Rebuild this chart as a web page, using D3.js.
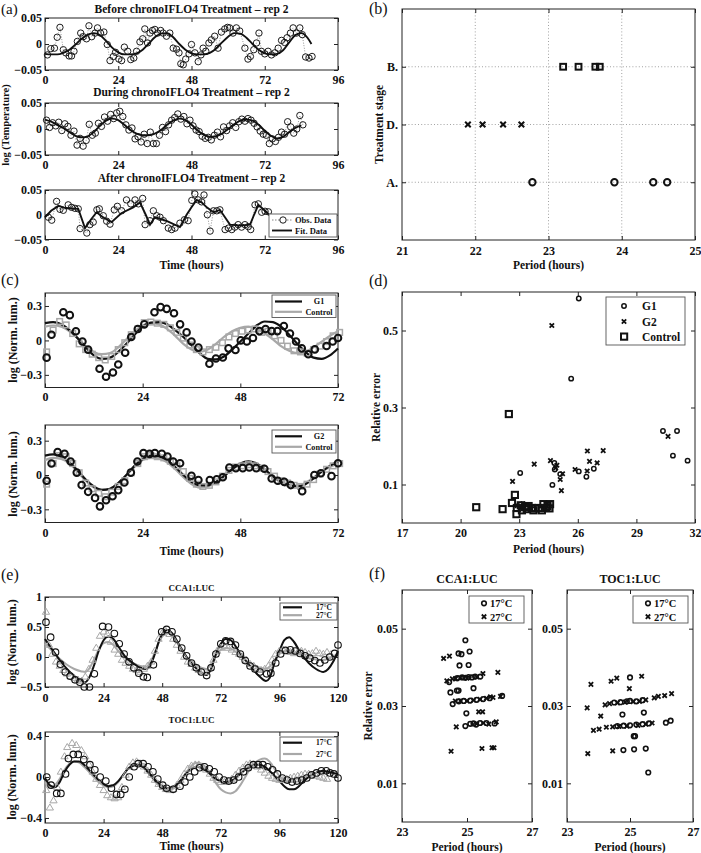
<!DOCTYPE html>
<html><head><meta charset="utf-8">
<script src="https://cdn.jsdelivr.net/npm/d3@7"></script>
<style>body{margin:0;background:#fff}</style>
</head><body>
<svg id="fig" width="701" height="853"></svg>
<script>
// ================= DATA =================
// (a) temperature rhythms
const aBeforeT = [0.8,1.9,3.1,4.0,4.9,6.0,6.8,7.9,8.7,9.5,10.6,11.7,12.5,13.6,14.4,15.3,16.4,17.2,18.2,19.3,20.4,21.3,22.4,23.1,24.2,25.1,26.0,27.1,28.1,29.1,30.0,31.1,32.0,32.7,33.6,34.4,35.2,36.0,36.9,37.9,38.7,39.8,40.9,42.0,43.1,43.9,44.5,45.3,46.1,47.2,48.0,49.1,50.2,51.1,51.8,52.7,53.7,54.5,55.6,56.7,57.8,58.9,59.8,60.5,61.6,62.7,63.8,65.5,66.5,67.3,68.4,69.3,70.1,70.9,72.0,73.1,74.2,75.3,76.4,77.5,78.5,79.3,80.4,81.3,82.4,83.5,84.3,85.4,86.5,87.5];
const aBeforeV = [-0.021,-0.009,-0.008,0.013,0.032,-0.011,-0.017,-0.023,-0.023,-0.014,0.005,0.021,0.014,0.010,0.035,0.014,0.021,0.031,0.021,0.023,-0.001,-0.032,-0.024,-0.016,-0.029,-0.032,-0.006,-0.014,-0.030,-0.027,-0.014,0.004,0.010,0.029,0.002,0.021,0.026,0.028,0.021,0.026,0.021,0.015,0.021,-0.008,-0.010,-0.017,-0.038,-0.040,-0.029,-0.019,-0.001,-0.017,-0.034,-0.021,-0.008,-0.014,0.002,0.008,0.015,-0.008,0.023,0.029,0.032,0.031,0.021,0.031,0.025,-0.008,-0.029,-0.024,-0.011,0.002,0.021,-0.014,-0.019,-0.014,-0.021,-0.017,-0.008,0.007,0.003,0.012,0.021,0.031,0.021,0.031,0.018,-0.025,-0.027,-0.024];
const aBeforeFitT = d3.range(0, 87, 2).concat([87.3]);
const aBeforeFitV = [-0.019,-0.02,-0.02,-0.017,-0.011,-0.001,0.01,0.018,0.021,0.017,0.006,-0.007,-0.016,-0.02,-0.02,-0.018,-0.011,0.001,0.013,0.02,0.021,0.013,0.0,-0.011,-0.018,-0.02,-0.02,-0.017,-0.009,0.003,0.014,0.021,0.02,0.012,0.0,-0.011,-0.018,-0.02,-0.019,-0.012,0.003,0.017,0.021,0.012,0.0];

const aDuringT = d3.range(0.5, 85, 1);
const aDuringV = [0.017,0.003,0.012,0.006,0.013,-0.003,0.010,0.005,-0.012,-0.004,-0.031,-0.018,-0.033,-0.022,0.009,-0.012,-0.008,0.011,0.005,0.023,0.015,0.028,0.020,0.031,0.034,0.024,0.008,-0.002,0.002,-0.019,-0.015,-0.025,-0.010,-0.028,-0.006,-0.028,-0.028,-0.012,0.003,-0.005,0.008,0.017,0.022,0.029,0.019,0.024,0.010,0.017,0.006,-0.002,-0.005,-0.014,-0.018,-0.016,-0.021,-0.012,-0.006,-0.015,0.004,-0.003,0.006,0.012,0.003,0.014,0.019,0.015,0.020,0.017,0.011,0.004,-0.004,-0.010,-0.012,-0.028,-0.019,-0.024,-0.016,-0.006,-0.010,0.014,0.004,-0.008,0.000,0.026,0.008];
const aDuringFitT = d3.range(0, 85, 2);
const aDuringFitV = [0.018,0.014,0.008,0.002,-0.006,-0.013,-0.016,-0.014,-0.006,0.006,0.016,0.02,0.017,0.008,-0.002,-0.009,-0.012,-0.012,-0.009,-0.002,0.008,0.016,0.02,0.017,0.008,-0.003,-0.011,-0.015,-0.014,-0.009,0.0,0.009,0.016,0.018,0.016,0.008,-0.003,-0.013,-0.018,-0.015,-0.006,0.002,0.007];

const aAfterT = [1.1,2.2,3.8,4.9,6.0,7.6,8.7,9.8,10.9,11.5,13.7,14.7,15.8,17.0,17.8,19.1,20.2,21.3,22.7,23.7,25.1,26.7,28.1,29.5,30.6,32.0,32.8,34.4,35.5,36.6,37.7,38.8,40.4,41.5,42.6,44.2,45.7,46.9,48.1,49.1,50.2,51.3,52.1,53.2,54.1,55.2,56.3,57.3,59.0,60.1,61.2,62.2,63.3,64.4,65.5,66.6,67.4,68.8,69.9,71.0,72.1,73.2];
const aAfterV = [-0.005,-0.011,0.027,0.011,0.009,0.02,0.015,0.013,0.012,-0.028,-0.037,-0.02,-0.015,0.01,0.012,-0.002,-0.013,-0.019,0.01,0.017,0.008,0.03,0.022,0.03,0.022,0.033,-0.02,-0.012,0.008,-0.002,-0.005,-0.012,-0.027,-0.03,-0.027,-0.017,-0.01,-0.012,0.029,0.042,0.03,0.026,0.04,0.0,-0.033,0.008,0.008,0.01,-0.03,-0.027,-0.03,-0.025,-0.02,-0.025,-0.02,-0.024,-0.03,0.02,0.022,0.005,0.007,0.006];
const aAfterFitT = [0,2,4.4,7,10.9,13.1,15,16.9,19,21.8,25,28.9,31.1,33,34.4,36,40,44.2,46.4,48,49.7,51.3,53,55.2,57.3,60.6,64,67.2,68.5,69.9,72.1,74.3];
const aAfterFitV = [-0.005,0.008,0.018,0.013,0.012,-0.027,-0.01,0.005,-0.005,-0.015,0.003,0.015,0.025,0.0,-0.02,-0.005,-0.013,-0.025,0.0,0.015,0.03,0.025,0.015,0.005,0.01,-0.02,-0.022,-0.02,0.0,0.02,0.008,-0.005];
const aTitles = ["Before chronoIFLO4 Treatment \u2013 rep 2","During chronoIFLO4 Treatment \u2013 rep 2","After chronoIFLO4 Treatment \u2013 rep 2"];
const aTimeTicks = [0,24,48,72,96];
const aYTicks = [-0.05,0,0.05];

// (b) periods per treatment stage
const bStages = ["A.","D.","B."];
const bPeriodA = [22.78,23.9,24.43,24.62];
const bPeriodD = [21.9,22.1,22.38,22.63];
const bPeriodB = [23.2,23.41,23.64,23.7];
const bXTicks = [21,22,23,24,25];

// (c) luminescence G1 / G2 vs control
const cG1T = [0.4,1.6,4.5,6.1,7.6,9.2,10.6,13.4,15.0,16.7,18.0,19.7,21.2,22.8,24.4,26.9,28.4,29.9,31.7,33.2,34.8,36.0,37.7,40.4,42.0,43.7,45.1,46.8,48.1,49.6,51.1,52.7,54.2,55.7,57.1,58.7,60.2,61.7,63.1,64.7,66.3,69.2,70.7,72.0];
const cG1V = [-0.15,0.05,0.245,0.22,0.08,-0.01,-0.08,-0.247,-0.316,-0.28,-0.21,-0.107,0.03,0.1,0.14,0.245,0.29,0.275,0.236,0.14,0.07,-0.01,-0.063,-0.203,-0.158,-0.149,-0.069,-0.084,0.0,-0.009,0.021,0.081,0.1,0.081,0.081,0.125,0.06,-0.009,-0.069,-0.12,-0.078,-0.048,-0.009,0.021];
const cCtlT = d3.range(0.4, 72.5, 1.6);
const cCtl1V = [-0.1,0.09,0.165,0.135,0.06,-0.03,-0.08,-0.12,-0.15,-0.17,-0.14,-0.08,-0.02,0.05,0.1,0.155,0.16,0.15,0.14,0.11,0.07,0.02,-0.04,-0.08,-0.1,-0.08,-0.06,-0.02,0.03,0.06,0.08,0.09,0.1,0.07,0.08,0.04,0.0,-0.05,-0.09,-0.1,-0.11,-0.08,-0.05,-0.01,0.04,0.07];
const cFitT = d3.range(0, 73, 2);
const cG1FitV = [0.15,0.16,0.14,0.09,0.02,-0.06,-0.13,-0.16,-0.15,-0.1,-0.03,0.05,0.12,0.155,0.16,0.14,0.09,0.03,-0.04,-0.11,-0.16,-0.165,-0.14,-0.08,-0.01,0.06,0.13,0.165,0.16,0.12,0.05,-0.03,-0.1,-0.15,-0.16,-0.13,-0.07];
const cCtl1FitV = [0.12,0.13,0.12,0.08,0.02,-0.05,-0.1,-0.12,-0.11,-0.06,0.01,0.08,0.13,0.15,0.14,0.1,0.04,-0.03,-0.08,-0.1,-0.08,-0.03,0.03,0.08,0.11,0.12,0.1,0.06,0.01,-0.05,-0.09,-0.11,-0.1,-0.06,-0.01,0.04,0.08];
const cG2T = [0.4,1.6,3.1,4.8,6.3,7.8,9.0,10.6,12.3,13.5,15.0,16.6,18.0,19.5,21.1,22.7,24.2,25.7,27.0,28.7,30.1,31.5,33.2,36.0,37.7,40.5,42.2,43.7,45.3,46.9,48.6,50.2,51.9,53.9,55.7,57.2,58.8,60.4,63.2,66.2,67.8,70.4,72.0];
const cG2V = [-0.05,0.1,0.2,0.185,0.118,0.021,-0.088,-0.147,-0.2,-0.274,-0.221,-0.185,-0.132,-0.065,0.021,0.118,0.191,0.185,0.191,0.185,0.162,0.118,0.103,-0.006,-0.044,-0.044,-0.038,-0.02,0.065,0.059,0.06,0.065,0.06,0.055,-0.03,-0.05,-0.06,-0.088,-0.141,0.0,0.015,-0.01,0.103];
const cCtl2V = [-0.08,0.1,0.17,0.16,0.1,0.02,-0.07,-0.12,-0.16,-0.19,-0.15,-0.1,-0.05,0.02,0.1,0.16,0.17,0.16,0.15,0.12,0.08,0.03,-0.03,-0.08,-0.1,-0.09,-0.06,-0.01,0.04,0.07,0.08,0.09,0.08,0.06,0.03,-0.01,-0.05,-0.07,-0.09,-0.1,-0.08,-0.04,0.01,0.05,0.08,0.1];
const cG2FitV = [0.17,0.18,0.16,0.11,0.04,-0.04,-0.1,-0.13,-0.12,-0.07,0.0,0.08,0.14,0.17,0.165,0.13,0.07,0.0,-0.06,-0.09,-0.09,-0.06,-0.01,0.05,0.1,0.12,0.1,0.05,-0.01,-0.06,-0.09,-0.1,-0.08,-0.03,0.03,0.08,0.12];
const cCtl2FitV = [0.13,0.15,0.14,0.1,0.03,-0.05,-0.11,-0.13,-0.12,-0.07,0.0,0.07,0.13,0.15,0.145,0.11,0.05,-0.02,-0.08,-0.11,-0.1,-0.06,0.0,0.05,0.09,0.1,0.08,0.04,-0.02,-0.06,-0.09,-0.09,-0.07,-0.02,0.03,0.07,0.1];
const cTimeTicks = [0,24,48,72];
const cYTicks = [-0.3,0,0.3];

// (d) relative error vs period
const dG1P = [26.05,25.66,23.05,24.8,24.82,24.7,25.1,26.05,26.44,26.82,30.36,31.08,30.87,31.62];
const dG1E = [0.583,0.375,0.130,0.156,0.139,0.099,0.127,0.134,0.120,0.141,0.239,0.239,0.175,0.162];
const dG2P = [24.67,23.77,22.66,24.6,24.93,24.87,25.22,25.1,25.16,25.86,26.49,26.6,26.48,26.99,27.3,30.62,22.9,23.2];
const dG2E = [0.513,0.153,0.108,0.162,0.150,0.143,0.128,0.113,0.084,0.139,0.187,0.160,0.135,0.156,0.188,0.225,0.045,0.05];
const dCtlP = [20.8,22.15,22.47,22.78,22.63,22.86,22.88,23.08,23.14,23.48,23.39,23.73,23.83,24.16,24.24,24.38,24.58,24.55,23.65,23.99,23.3,24.45];
const dCtlE = [0.041,0.036,0.283,0.073,0.052,0.023,0.039,0.046,0.033,0.044,0.036,0.033,0.038,0.033,0.049,0.039,0.049,0.038,0.039,0.039,0.041,0.044];
const dXTicks = [17,20,23,26,29,32];
const dYTicks = [0.1,0.3,0.5];

// (e) CCA1:LUC and TOC1:LUC at 17 / 27 C
const eC17T = [0.4,2.3,4.3,6.3,8.3,10.3,12.3,14.3,16.1,18.2,20.2,23.6,26.0,28.4,30.4,32.4,34.4,36.4,38.4,40.3,41.9,44.4,47.8,49.8,52.0,54.0,56.0,58.0,60.0,62.0,64.0,66.2,68.0,70.0,72.0,74.0,76.0,78.0,80.0,82.0,84.0,86.0,88.0,90.8,92.5,94.5,96.5,98.5,100.5,102.5,104.5,106.5,108.5,110.5,112.6,114.6,116.6,118.6,120];
const eC17V = [0.58,0.33,0.08,-0.12,-0.25,-0.32,-0.38,-0.42,-0.5,-0.5,-0.28,0.51,0.5,0.39,0.22,0.05,-0.08,-0.18,-0.27,-0.33,-0.34,-0.13,0.42,0.46,0.42,0.3,0.15,0.02,-0.1,-0.18,-0.25,-0.31,-0.18,0.05,0.22,0.27,0.26,0.2,0.05,-0.06,-0.15,-0.2,-0.25,-0.28,-0.27,-0.1,0.05,0.11,0.12,0.1,0.06,0.02,-0.02,-0.06,-0.1,-0.05,0.0,0.06,0.2];
const eC27T = [0.4,1.6].concat(d3.range(3, 118, 1.5));
const eC27V = [0.75,0.2,0.05,-0.08,-0.15,-0.22,-0.28,-0.32,-0.35,-0.38,-0.4,-0.33,-0.2,-0.05,0.15,0.35,0.42,0.38,0.25,0.12,0.05,-0.05,-0.1,-0.15,-0.2,-0.22,-0.25,-0.2,-0.15,-0.08,0.1,0.3,0.4,0.43,0.38,0.3,0.2,0.1,0.0,-0.08,-0.12,-0.18,-0.22,-0.24,-0.25,-0.18,-0.05,0.1,0.15,0.18,0.15,0.12,0.08,0.05,0.0,-0.05,-0.12,-0.15,-0.2,-0.22,-0.2,-0.15,-0.05,0.05,0.1,0.12,0.1,0.08,0.06,0.08,0.1,0.08,0.05,0.06,0.1,0.06,0.05,0.08,0.04];
const eCFitT = [0,3,6,9,12,15,16.5,18,20,22,24,26,28,30,33,36,39,41.5,43,45,47,49,50.5,52,55,58,61,64,66,68,70,72,74,76,79,82,85,88,90.5,92,94,96,98,100,102,105,108,111,114,116,118,120];
const eC17FitV = [0.3,0.12,-0.05,-0.2,-0.32,-0.4,-0.42,-0.35,-0.15,0.1,0.28,0.34,0.3,0.18,0.0,-0.1,-0.18,-0.2,-0.15,0.05,0.3,0.43,0.45,0.4,0.2,0.0,-0.15,-0.26,-0.3,-0.2,0.05,0.22,0.3,0.28,0.12,-0.05,-0.2,-0.33,-0.4,-0.35,-0.1,0.1,0.28,0.33,0.25,0.05,-0.1,-0.2,-0.25,-0.2,-0.08,0.1];
const eC27FitV = [0.22,0.1,-0.03,-0.13,-0.2,-0.24,-0.25,-0.2,-0.05,0.12,0.23,0.25,0.2,0.1,-0.02,-0.1,-0.15,-0.16,-0.1,0.08,0.28,0.38,0.4,0.35,0.18,0.0,-0.1,-0.18,-0.2,-0.12,0.03,0.12,0.15,0.14,0.06,-0.05,-0.12,-0.18,-0.2,-0.16,-0.05,0.05,0.1,0.1,0.08,0.03,-0.02,-0.04,-0.05,-0.03,0.01,0.05];
const eT17T = [0.7,2.5,4.8,6.5,8.4,9.6,11.6,13.6,15.9,18.4,20.4,22.6,24.9,27.2,29.3,31,32.7,34.5,36.5,38.2,40.2,42.2,44.2,46.2,48.2,49.8,52.5,55.3,57.3,59.3,61.3,63.3,65.3,67.3,69.3,71.3,73.3,75.3,77.3,79.3,81.3,83.3,85.3,87.3,89.2,91.2,93.2,95.2,97.2,99.2,101.2,103.2,105.2,107.2,109.2,111.2,113.2,115.2,116.7,118.3,120];
const eT17V = [0.0,-0.08,-0.16,-0.16,0.03,0.18,0.22,0.22,0.17,0.12,0.07,0.0,-0.04,-0.11,-0.17,-0.17,-0.12,0.0,0.1,0.13,0.13,0.1,0.05,-0.02,-0.08,-0.11,-0.12,-0.09,-0.05,0.0,0.05,0.09,0.1,0.08,0.05,0.0,-0.03,-0.04,-0.03,0.0,0.05,0.09,0.12,0.12,0.12,0.1,0.07,0.03,-0.01,-0.03,-0.05,-0.04,-0.03,-0.01,0.02,0.04,0.06,0.06,0.04,0.03,-0.01];
const eT27T = [0.5,2,3.5,5,6.5,8,9.1,11.1,12.8,14.9].concat(d3.range(16.5, 116, 1.5));
const eT27V = [-0.13,-0.3,-0.23,-0.1,0.05,0.2,0.29,0.33,0.31,0.26,0.2,0.12,0.05,-0.02,-0.08,-0.13,-0.18,-0.2,-0.21,-0.2,-0.1,0.02,0.1,0.14,0.15,0.13,0.1,0.06,0.02,-0.03,-0.07,-0.1,-0.12,-0.13,-0.12,-0.08,-0.03,0.03,0.08,0.11,0.12,0.12,0.1,0.07,0.03,-0.01,-0.03,-0.05,-0.05,-0.04,-0.02,0.02,0.06,0.09,0.12,0.13,0.12,0.1,0.07,0.04,0.01,-0.01,-0.02,-0.03,-0.03,-0.02,-0.01,0.0,0.01,0.02,0.03,0.03,0.02,0.01,0.0,-0.01,-0.02];
const eTFitT = d3.range(0, 121, 2);
const eT17FitV = [-0.01,-0.08,-0.1,-0.05,0.05,0.12,0.15,0.15,0.12,0.07,0.02,-0.03,-0.07,-0.09,-0.08,-0.04,0.02,0.08,0.11,0.12,0.1,0.05,0.0,-0.05,-0.09,-0.11,-0.1,-0.07,-0.02,0.04,0.08,0.1,0.09,0.06,0.02,-0.02,-0.04,-0.05,-0.04,-0.01,0.03,0.07,0.1,0.12,0.12,0.1,0.06,0.01,-0.04,-0.09,-0.12,-0.12,-0.09,-0.04,0.0,0.03,0.05,0.06,0.05,0.04,0.03];
const eT27FitV = [-0.05,-0.1,-0.08,-0.02,0.07,0.13,0.15,0.14,0.1,0.05,0.0,-0.05,-0.08,-0.1,-0.09,-0.05,0.02,0.08,0.11,0.12,0.1,0.05,-0.01,-0.07,-0.11,-0.13,-0.12,-0.08,-0.02,0.05,0.11,0.14,0.13,0.09,0.02,-0.06,-0.12,-0.15,-0.16,-0.14,-0.08,0.0,0.08,0.14,0.17,0.18,0.15,0.08,0.01,-0.03,-0.05,-0.05,-0.04,-0.02,0.01,0.03,0.05,0.05,0.04,0.03,0.02];
const eTimeTicks = [0,24,48,72,96,120];
const eCYTicks = [-0.5,0,0.5,1];
const eTYTicks = [-0.4,0,0.4];

// (f) relative error vs period at 17 / 27 C
const fC17P = [24.95,25.08,24.74,24.83,24.77,25.05,24.45,24.49,24.69,24.74,25.2,24.56,24.98,24.95,25.41,25.28,24.7,24.85,24.95,25.05,25.15,25.25,24.75,24.9,25.1,25.3,25.5,25.7,25.1,25.2,25.4,25.6,25.85,26.08];
const fC17E = [0.047,0.0441,0.0436,0.0434,0.0405,0.0406,0.0362,0.0335,0.034,0.034,0.0346,0.0305,0.0281,0.0248,0.0376,0.0252,0.0372,0.0374,0.0373,0.0375,0.0374,0.0376,0.0312,0.0313,0.0314,0.0316,0.0318,0.032,0.0254,0.0255,0.0256,0.0256,0.0255,0.0326];
const fC27P = [24.28,24.46,24.38,25.49,25.95,24.55,24.65,24.8,25.0,25.3,24.64,24.8,25.0,25.2,25.4,25.6,25.8,26.03,25.72,25.36,25.48,24.67,25.3,25.5,25.67,25.9,24.51,25.46,25.77,25.83];
const fC27E = [0.0423,0.0429,0.0365,0.0384,0.0387,0.037,0.0371,0.0373,0.0372,0.0375,0.0313,0.0313,0.0313,0.0315,0.0317,0.032,0.0322,0.0325,0.0324,0.0285,0.0285,0.0246,0.0254,0.0256,0.0253,0.0259,0.0183,0.019,0.0192,0.0192];
const fT17P = [25.0,24.76,25.44,25.16,25.12,24.79,25.13,25.5,25.58,26.14,26.29,24.5,24.7,24.9,25.0,25.2,25.4,24.6,24.8,25.0,25.2,25.4,25.6];
const fT17E = [0.0374,0.0278,0.0283,0.0222,0.0222,0.0186,0.0188,0.019,0.0128,0.0257,0.0262,0.0309,0.031,0.0312,0.0313,0.0312,0.0315,0.0248,0.0249,0.025,0.0252,0.0253,0.0255];
const fT27P = [23.64,23.76,24.07,23.84,24.02,23.66,24.45,24.4,24.58,25.37,24.98,25.77,25.9,26.1,26.32,24.21,24.35,24.6,24.85,25.1,25.3,25.5,24.25,24.45,24.65,24.9,25.25,25.5,25.7];
const fT27E = [0.0295,0.0356,0.0274,0.0237,0.024,0.0177,0.0184,0.0364,0.0372,0.0377,0.0345,0.0321,0.0325,0.0327,0.0332,0.0303,0.0306,0.0308,0.031,0.0311,0.0312,0.0316,0.0245,0.0246,0.0247,0.0248,0.025,0.0253,0.0256];
const fXTicks = [23,25,27];
const fYTicks = [0.01,0.03,0.05];

// ================= DRAWING =================
const svg = d3.select("#fig");
const F = "'Liberation Serif','Times New Roman',serif";
const K = "#111";
const GR = "#a8a8a8";

function T(x, y, s, fs, o = {}) {
  const t = svg.append("text").attr("x", x).attr("y", y).text(s)
    .attr("font-family", F).attr("font-size", fs)
    .attr("font-weight", o.normal ? "normal" : "bold")
    .attr("text-anchor", o.a || "middle").attr("fill", K);
  if (o.rot) t.attr("transform", `rotate(-90,${x},${y})`);
  return t;
}

function axes(o) {
  const x = d3.scaleLinear().domain(o.xd).range([o.x0, o.x1]);
  const y = d3.scaleLinear().domain(o.yd).range([o.y1, o.y0]);
  const g = svg.append("g");
  if (o.grid) {
    g.selectAll(null).data(o.xt.filter(v => v > o.xd[0] && v < o.xd[1])).enter().append("line")
      .attr("x1", d => x(d)).attr("x2", d => x(d)).attr("y1", o.y0).attr("y2", o.y1)
      .attr("stroke", "#8a8a8a").attr("stroke-width", 0.8).attr("stroke-dasharray", "1,2.2");
    g.selectAll(null).data(o.yt).enter().append("line")
      .attr("y1", d => y(d)).attr("y2", d => y(d)).attr("x1", o.x0).attr("x2", o.x1)
      .attr("stroke", "#8a8a8a").attr("stroke-width", 0.8).attr("stroke-dasharray", "1,2.2");
  }
  const fs = o.fs || 12;
  const st = s => {
    s.select(".domain").remove();
    s.selectAll("text").attr("font-family", F).attr("font-size", fs).attr("font-weight", "bold").attr("fill", K);
    s.selectAll("line").attr("stroke", "#222");
  };
  g.append("g").attr("transform", `translate(0,${o.y1})`)
    .call(d3.axisBottom(x).tickValues(o.xt).tickSize(-4).tickPadding(o.xpad || 5).tickFormat(o.xf || (d => d))).call(st);
  g.append("g").attr("transform", `translate(0,${o.y0})`)
    .call(d3.axisTop(x).tickValues(o.xt).tickSize(-4).tickFormat("")).call(st);
  g.append("g").attr("transform", `translate(${o.x0},0)`)
    .call(d3.axisLeft(y).tickValues(o.yt).tickSize(-4).tickPadding(o.ypad || 3).tickFormat(o.yf)).call(st);
  g.append("g").attr("transform", `translate(${o.x1},0)`)
    .call(d3.axisRight(y).tickValues(o.yt).tickSize(-4).tickFormat("")).call(st);
  g.append("rect").attr("x", o.x0).attr("y", o.y0).attr("width", o.x1 - o.x0).attr("height", o.y1 - o.y0)
    .attr("fill", "none").attr("stroke", "#222").attr("stroke-width", 1);
  return { x, y, g };
}

function line(ax, T_, V_, color, w, curve, dash) {
  const p = ax.g.append("path").datum(d3.zip(T_, V_))
    .attr("d", d3.line().x(d => ax.x(d[0])).y(d => ax.y(d[1])).curve(curve || d3.curveMonotoneX))
    .attr("fill", "none").attr("stroke", color).attr("stroke-width", w);
  if (dash) p.attr("stroke-dasharray", dash);
  return p;
}
function circles(ax, X, Y, r, sw, color) {
  ax.g.selectAll(null).data(d3.zip(X, Y)).enter().append("circle")
    .attr("cx", d => ax.x(d[0])).attr("cy", d => ax.y(d[1])).attr("r", r)
    .attr("fill", "none").attr("stroke", color).attr("stroke-width", sw);
}
function squares(ax, X, Y, s, sw, color) {
  ax.g.selectAll(null).data(d3.zip(X, Y)).enter().append("rect")
    .attr("x", d => ax.x(d[0]) - s / 2).attr("y", d => ax.y(d[1]) - s / 2).attr("width", s).attr("height", s)
    .attr("fill", "none").attr("stroke", color).attr("stroke-width", sw);
}
function crossPath(cx, cy, s) { return `M${cx - s},${cy - s}L${cx + s},${cy + s}M${cx - s},${cy + s}L${cx + s},${cy - s}`; }
function crosses(ax, X, Y, s, sw, color) {
  ax.g.selectAll(null).data(d3.zip(X, Y)).enter().append("path")
    .attr("d", d => crossPath(ax.x(d[0]), ax.y(d[1]), s))
    .attr("stroke", color).attr("stroke-width", sw).attr("fill", "none");
}
function triangles(ax, X, Y, s, sw, color) {
  ax.g.selectAll(null).data(d3.zip(X, Y)).enter().append("path")
    .attr("d", d => { const cx = ax.x(d[0]), cy = ax.y(d[1]); return `M${cx},${cy - s}L${cx + s * 0.95},${cy + s * 0.6}L${cx - s * 0.95},${cy + s * 0.6}Z`; })
    .attr("stroke", color).attr("stroke-width", sw).attr("fill", "none");
}
function legBox(x0, y0, x1, y1) {
  svg.append("rect").attr("x", x0).attr("y", y0).attr("width", x1 - x0).attr("height", y1 - y0)
    .attr("fill", "#fff").attr("stroke", "#555").attr("stroke-width", 0.9);
}
function legLine(x0, x1, y, color, w, dash) {
  const l = svg.append("line").attr("x1", x0).attr("x2", x1).attr("y1", y).attr("y2", y).attr("stroke", color).attr("stroke-width", w);
  if (dash) l.attr("stroke-dasharray", dash);
}

const fmt2 = d => d === 0 ? "0" : d3.format(".2f")(d);
const fmt1 = d => d === 0 ? "0" : d3.format(".1f")(d);
const fmtE = d => d === 0 ? "0" : (Number.isInteger(d) ? d3.format("d")(d) : d3.format(".1f")(d));

// ---------- (a) ----------
const aBoxes = [[18, 70], [103, 155], [190, 239.5]];
const aSeries = [
  [aBeforeT, aBeforeV, aBeforeFitT, aBeforeFitV, d3.curveMonotoneX],
  [aDuringT, aDuringV, aDuringFitT, aDuringFitV, d3.curveMonotoneX],
  [aAfterT, aAfterV, aAfterFitT, aAfterFitV, d3.curveLinear]
];
aBoxes.forEach((b, i) => {
  const ax = axes({ x0: 45, x1: 338, y0: b[0], y1: b[1], xd: [0, 96], yd: [-0.05, 0.05], xt: aTimeTicks, yt: aYTicks, yf: fmt2, xpad: 5.5 });
  const s = aSeries[i];
  line(ax, s[0], s[1], "#666", 0.7, d3.curveLinear, "1,1.6");
  line(ax, s[2], s[3], K, 1.9, s[4]);
  circles(ax, s[0], s[1], 3.2, 0.95, K);
  T(191.5, [13, 96, 182][i], aTitles[i], 11.5);
});
T(191.5, 269, "Time (hours)", 11.5);
T(9, 125, "log (Temperature)", 10.5, { rot: true });
// legend (a)
legBox(269, 214, 337, 237);
legLine(272, 292, 220, "#666", 0.8, "1.5,1.5");
svg.append("circle").attr("cx", 283).attr("cy", 220).attr("r", 3.2).attr("fill", "#fff").attr("stroke", K).attr("stroke-width", 0.95);
T(295, 223.2, "Obs. Data", 8.5, { a: "start" });
legLine(272, 292, 230.5, K, 1.9);
T(295, 233.7, "Fit. Data", 8.5, { a: "start" });
T(1, 14, "(a)", 15, { a: "start", normal: true });

// ---------- (b) ----------
{
  const ax = axes({ x0: 402, x1: 695, y0: 9, y1: 240, xd: [21, 25], yd: [0, 4], xt: bXTicks, yt: [1, 2, 3],
    yf: d => bStages[d - 1], grid: true, xpad: 6, ypad: 4 });
  circles(ax, bPeriodA, bPeriodA.map(() => 1), 3.2, 2, K);
  crosses(ax, bPeriodD, bPeriodD.map(() => 2), 2.8, 2, K);
  squares(ax, bPeriodB, bPeriodB.map(() => 3), 5.8, 2, K);
  T(548.5, 269, "Period (hours)", 11.5);
  T(383, 124.5, "Treatment stage", 11.5, { rot: true });
  T(369, 14, "(b)", 16, { a: "start", normal: true });
}

// ---------- (c) ----------
{
  const ax = axes({ x0: 45, x1: 338, y0: 293, y1: 387.5, xd: [0, 72], yd: [-0.41, 0.413], xt: cTimeTicks, yt: cYTicks, yf: fmt1, xpad: 5 });
  line(ax, cFitT, cCtl1FitV, GR, 2.2);
  line(ax, cFitT, cG1FitV, K, 2.2);
  squares(ax, cCtlT, cCtl1V, 5.6, 1.5, GR);
  circles(ax, cG1T, cG1V, 3.3, 2, K);
  legBox(272, 295, 336, 317.5);
  legLine(275, 302, 301.5, K, 2.2); T(319, 304.3, "G1", 8.2);
  legLine(275, 302, 311.8, GR, 2.2); T(319, 314.6, "Control", 8.2);
  T(17, 340, "log (Norm. lum.)", 12, { rot: true });
  T(1, 285, "(c)", 16, { a: "start", normal: true });
}
{
  const ax = axes({ x0: 45, x1: 338, y0: 425, y1: 522.5, xd: [0, 72], yd: [-0.415, 0.437], xt: cTimeTicks, yt: cYTicks, yf: fmt1, xpad: 6 });
  line(ax, cFitT, cCtl2FitV, GR, 2.2);
  line(ax, cFitT, cG2FitV, K, 2.2);
  squares(ax, cCtlT, cCtl2V, 5.6, 1.5, GR);
  circles(ax, cG2T, cG2V, 3.3, 2, K);
  legBox(272, 430, 336, 453);
  legLine(275, 302, 436.3, K, 2.2); T(319, 439.1, "G2", 8.2);
  legLine(275, 302, 446.8, GR, 2.2); T(319, 449.6, "Control", 8.2);
  T(17, 474, "log (Norm. lum.)", 12, { rot: true });
  T(191.5, 555, "Time (hours)", 11.5);
}

// ---------- (d) ----------
{
  const ax = axes({ x0: 402, x1: 695, y0: 292, y1: 523, xd: [17, 32], yd: [0, 0.6], xt: dXTicks, yt: dYTicks, yf: d => d3.format(".1f")(d), xpad: 5.5, ypad: 4 });
  squares(ax, dCtlP, dCtlE, 6.2, 2, K);
  crosses(ax, dG2P, dG2E, 2.2, 1.8, K);
  circles(ax, dG1P, dG1E, 2.2, 1.5, K);
  legBox(606, 297, 685, 345);
  svg.append("circle").attr("cx", 624).attr("cy", 306).attr("r", 2.2).attr("fill", "none").attr("stroke", K).attr("stroke-width", 1.5);
  T(642, 310.2, "G1", 11.5, { a: "start" });
  svg.append("path").attr("d", crossPath(624, 321.5, 2.2)).attr("stroke", K).attr("stroke-width", 1.8);
  T(642, 325.7, "G2", 11.5, { a: "start" });
  svg.append("rect").attr("x", 621).attr("y", 333.5).attr("width", 6.2).attr("height", 6.2).attr("fill", "none").attr("stroke", K).attr("stroke-width", 2);
  T(642, 340.8, "Control", 11.5, { a: "start" });
  T(548.5, 553, "Period (hours)", 11.5);
  T(380, 407.5, "Relative error", 11.5, { rot: true });
  T(369, 286, "(d)", 16, { a: "start", normal: true });
}

// ---------- (e) ----------
{
  const ax = axes({ x0: 45, x1: 338, y0: 597, y1: 687, xd: [0, 120], yd: [-0.5, 1], xt: eTimeTicks, yt: eCYTicks, yf: fmtE, xpad: 6 });
  line(ax, eCFitT, eC27FitV, GR, 2);
  line(ax, eCFitT, eC17FitV, K, 2);
  triangles(ax, eC27T, eC27V, 3.8, 1, GR);
  circles(ax, eC17T, eC17V, 3.3, 1.1, K);
  legBox(280, 603, 337, 620);
  legLine(283, 302, 607.3, K, 2.2); T(324, 609.8, "17\u00B0C", 7.5);
  legLine(283, 302, 615.2, GR, 2.2); T(324, 617.7, "27\u00B0C", 7.5);
  T(191.5, 591, "CCA1:LUC", 9);
  T(16, 642, "log (Norm. lum.)", 12, { rot: true });
  T(1, 580, "(e)", 16, { a: "start", normal: true });
}
{
  const ax = axes({ x0: 45, x1: 338, y0: 732, y1: 823, xd: [0, 120], yd: [-0.449, 0.439], xt: eTimeTicks, yt: eTYTicks, yf: fmt1, xpad: 5 });
  line(ax, eTFitT, eT27FitV, GR, 2);
  line(ax, eTFitT, eT17FitV, K, 2);
  triangles(ax, eT27T, eT27V, 3.8, 1, GR);
  circles(ax, eT17T, eT17V, 3.3, 1.1, K);
  legBox(280, 737, 337, 761);
  legLine(283, 302, 742.7, K, 2.2); T(324, 745.4, "17\u00B0C", 7.5);
  legLine(283, 302, 754, GR, 2.2); T(324, 756.7, "27\u00B0C", 7.5);
  T(191.5, 723, "TOC1:LUC", 9);
  T(16, 777, "log (Norm. lum.)", 12, { rot: true });
  T(191.5, 850, "Time (hours)", 11.5);
}

// ---------- (f) ----------
function fPanel(x0, x1, P17, E17, P27, E27, title, lx0) {
  const ax = axes({ x0: x0, x1: x1, y0: 590, y1: 822, xd: [23, 27], yd: [0, 0.06], xt: fXTicks, yt: fYTicks, yf: d => d3.format(".2f")(d), xpad: 5, ypad: 4 });
  crosses(ax, P27, E27, 2.2, 1.8, K);
  circles(ax, P17, E17, 2.3, 1.6, K);
  legBox(lx0, 596, lx0 + 55, 623);
  svg.append("circle").attr("cx", lx0 + 15).attr("cy", 603.3).attr("r", 2.3).attr("fill", "none").attr("stroke", K).attr("stroke-width", 1.6);
  T(lx0 + 21, 607.3, "17\u00B0C", 10.5, { a: "start" });
  svg.append("path").attr("d", crossPath(lx0 + 15, 616.7, 2.2)).attr("stroke", K).attr("stroke-width", 1.8);
  T(lx0 + 21, 620.7, "27\u00B0C", 10.5, { a: "start" });
  T((x0 + x1) / 2, 583, title, 12);
  T((x0 + x1) / 2, 851, "Period (hours)", 11.5);
}
fPanel(402, 532, fC17P, fC17E, fC27P, fC27E, "CCA1:LUC", 469);
fPanel(567, 693, fT17P, fT17E, fT27P, fT27E, "TOC1:LUC", 633);
T(372, 706, "Relative error", 11.5, { rot: true });
T(369, 579, "(f)", 16, { a: "start", normal: true });
</script>
</body></html>
